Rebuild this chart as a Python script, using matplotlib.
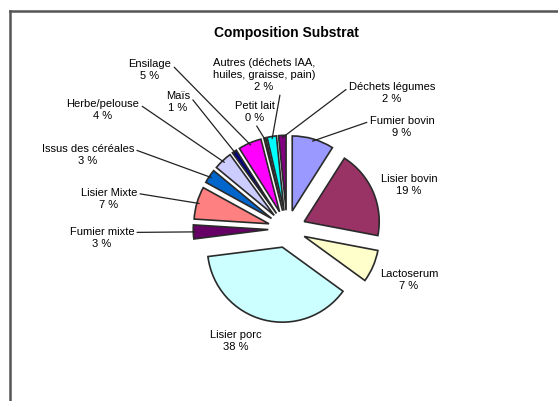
import matplotlib
matplotlib.use('agg')
import matplotlib.pyplot as plt
from matplotlib.lines import Line2D
import numpy as np

plt.rcParams['font.family'] = ['Liberation Sans', 'DejaVu Sans']

# < -- Data (clockwise from the top)

labels = ['Fumier bovin', 'Lisier bovin', 'Lactoserum', 'Lisier porc',
          'Fumier mixte', 'Lisier Mixte', 'Issus des céréales', 'Herbe/pelouse',
          'Maïs', 'Ensilage', 'Petit lait',
          'Autres (déchets IAA,\nhuiles, graisse, pain)', 'Déchets légumes']
values = [9, 19, 7, 38, 3, 7, 3, 4, 1, 5, 0.4, 2, 1.6]
pct_text = ['9 %', '19 %', '7 %', '38 %', '3 %', '7 %', '3 %', '4 %', '1 %', '5 %', '0 %', '2 %', '2 %']
colors = ['#9999FF', '#993366', '#FFFFCC', '#CCFFFF', '#660066', '#FF8080',
          '#0066CC', '#CCCCFF', '#000080', '#FF00FF', '#FFFF00', '#00FFFF', '#800080']

# label centres in pixels (x from left, y from top) and whether a leader is drawn
label_px = [(402, 127), (409, 185), (409, 280), (236, 341),
            (102, 238), (109, 199), (88, 155), (103, 110),
            (178, 102), (150, 70), (255, 112), (264, 75), (392, 93)]
leader = [True, False, False, False, True, True, True, True, True, True, True, True, True]
relpos = [(0.0, 0.75), None, None, None, (1.0, 0.75), (1.0, 0.75), (1.0, 0.75),
          (1.0, 0.75), (1.0, 0.75), (1.0, 0.75), (0.5, 0.0), (0.66, 0.0), (0.0, 0.75)]

# < -- Layout in pixels

W, H = 558, 401
cx, cy = 287, 229      # pie centre (pixels from top-left)
scale = 75.0           # pixels per pie radius

fig = plt.figure(figsize=(W / 100, H / 100), dpi=100)
ax = fig.add_axes([0, 0, 1, 1])

def to_data(px, py):
    return (px - cx) / scale, (cy - py) / scale

explode = [0.25] * len(values)
wedges, _ = ax.pie(values, colors=colors, startangle=90, counterclock=False,
                   explode=explode, radius=1,
                   wedgeprops=dict(edgecolor='#2a2a2a', linewidth=1.2))

ax.set_xlim(-cx / scale, (W - cx) / scale)
ax.set_ylim(-(H - cy) / scale, cy / scale)
ax.set_aspect('auto')
ax.axis('off')

for i, w in enumerate(wedges):
    theta = np.deg2rad((w.theta1 + w.theta2) / 2)
    ox, oy = w.center
    tip = (ox + 0.97 * np.cos(theta), oy + 0.97 * np.sin(theta))
    txt = labels[i] + '\n' + pct_text[i]
    tx, ty = to_data(*label_px[i])
    if leader[i]:
        ax.annotate(txt, xy=tip, xytext=(tx, ty), ha='center', va='center',
                    fontsize=8, linespacing=1.3,
                    arrowprops=dict(arrowstyle='-', color='#222222', lw=0.9,
                                    relpos=relpos[i], shrinkA=0, shrinkB=0))
    else:
        ax.text(tx, ty, txt, ha='center', va='center', fontsize=8, linespacing=1.3)

tx, ty = to_data(286, 33)
ax.text(tx, ty, 'Composition Substrat', ha='center', va='center',
        fontsize=10, fontweight='bold')

# chart area border (top and left edges visible)
fig.add_artist(Line2D([10 / W, 1], [1 - 11 / H, 1 - 11 / H], color='#555555', lw=1.8))
fig.add_artist(Line2D([10 / W, 10 / W], [0, 1 - 11 / H], color='#555555', lw=1.8))

fig.savefig('out.png', dpi=100, facecolor='white')
